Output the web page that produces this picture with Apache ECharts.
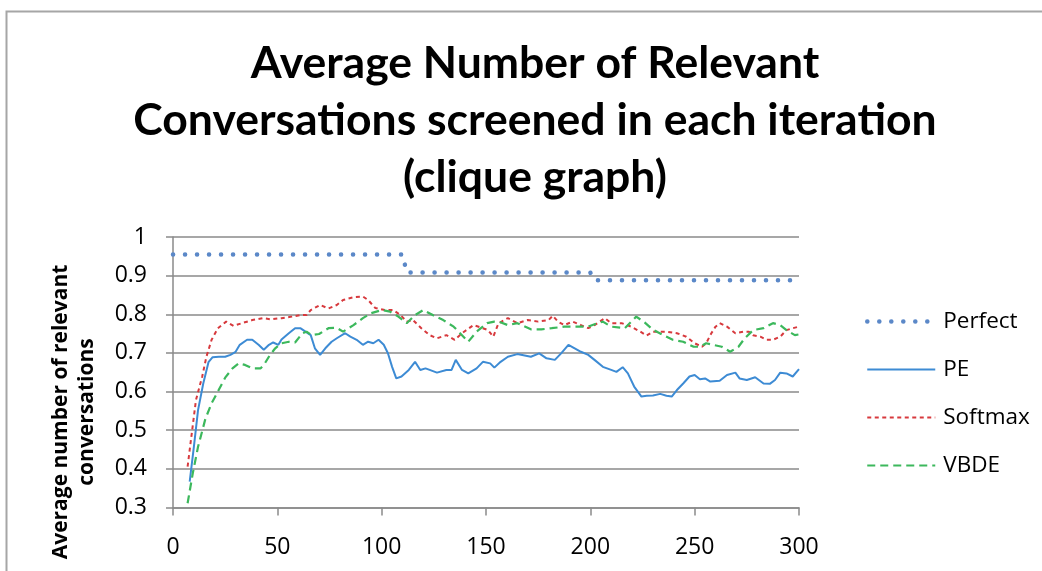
<!DOCTYPE html>
<html>
<head>
<meta charset="utf-8">
<script src="https://cdn.jsdelivr.net/npm/echarts@6/dist/echarts.min.js"></script>
<style>
  html, body { margin: 0; padding: 0; background: #ffffff; }
  #chart { width: 1042px; height: 571px; }
</style>
</head>
<body>
<div id="chart"></div>
<script>
// Average number of relevant conversations screened per iteration, [iteration, value]
const perfect = [[0, 0.955], [110, 0.955], [112, 0.908], [200, 0.908], [202, 0.888], [300, 0.888]];

const pe = [
  [8, 0.367], [10, 0.457], [12, 0.552], [14.5, 0.621], [17, 0.676], [19, 0.689], [22, 0.690],
  [25, 0.690], [27.5, 0.695], [30, 0.703], [32, 0.721], [35.5, 0.734], [38, 0.734], [41, 0.721],
  [43.5, 0.708], [46, 0.721], [48, 0.727], [50.5, 0.721], [52, 0.735], [55.5, 0.751], [58.5, 0.764],
  [61, 0.764], [63.5, 0.755], [66, 0.746], [68, 0.712], [70.5, 0.695], [73, 0.712], [76, 0.729],
  [78.5, 0.738], [82.5, 0.751], [85, 0.742], [88, 0.734], [91, 0.721], [93.5, 0.729], [96, 0.725],
  [98.5, 0.734], [101, 0.721], [103, 0.699], [105, 0.664], [107, 0.634], [109.5, 0.639], [113, 0.656],
  [116, 0.677], [118.5, 0.656], [121, 0.660], [123, 0.656], [126.5, 0.649], [131, 0.656], [133.5, 0.656],
  [135.5, 0.682], [138.5, 0.656], [141.5, 0.647], [145.5, 0.660], [148.5, 0.677], [152, 0.673],
  [154, 0.662], [157, 0.677], [160.5, 0.690], [165, 0.697], [171.5, 0.690], [175.5, 0.699], [179, 0.686],
  [183, 0.682], [186, 0.699], [189.5, 0.721], [192.5, 0.712], [195.5, 0.703], [199, 0.695], [202, 0.682],
  [206, 0.664], [210, 0.656], [212.5, 0.651], [215.5, 0.663], [218, 0.647], [221, 0.613], [224.5, 0.587],
  [227, 0.589], [230, 0.590], [233.5, 0.594], [236.5, 0.589], [239, 0.587], [241.5, 0.604], [244.5, 0.621],
  [247.5, 0.639], [250, 0.643], [252.5, 0.632], [255, 0.634], [257.5, 0.626], [262, 0.628], [265.5, 0.643],
  [269.5, 0.649], [271.5, 0.634], [275, 0.630], [279, 0.637], [283, 0.621], [286, 0.620], [288.5, 0.630],
  [291, 0.649], [294, 0.647], [297, 0.639], [300, 0.658]
];

const softmax = [
  [7, 0.406], [9, 0.492], [11, 0.578], [14, 0.639], [16, 0.690], [18.5, 0.734], [21.5, 0.764],
  [25.5, 0.781], [29, 0.770], [33, 0.777], [38, 0.785], [43, 0.790], [47, 0.787], [52, 0.790],
  [57, 0.794], [61, 0.798], [64, 0.798], [66, 0.811], [70.5, 0.824], [74.5, 0.815], [78.5, 0.824],
  [81.5, 0.837], [86.5, 0.844], [91, 0.846], [93.5, 0.837], [97, 0.816], [101.5, 0.811], [105.5, 0.811],
  [109, 0.798], [112, 0.781], [115, 0.785], [119, 0.764], [123, 0.746], [126.5, 0.738], [131, 0.746],
  [135, 0.734], [138.5, 0.751], [144, 0.772], [148.5, 0.764], [151, 0.759], [153.5, 0.742], [156, 0.777],
  [160.5, 0.790], [165, 0.777], [170, 0.785], [175, 0.781], [180, 0.785], [182, 0.796], [184.5, 0.781],
  [187.5, 0.772], [191.5, 0.781], [195.5, 0.772], [199, 0.764], [202, 0.772], [207, 0.790], [210, 0.777],
  [215, 0.777], [219.5, 0.768], [224, 0.755], [227, 0.745], [230, 0.755], [236.5, 0.755], [241.5, 0.751],
  [246, 0.742], [250, 0.725], [253.5, 0.716], [255.5, 0.725], [258, 0.751], [260, 0.768], [262, 0.777],
  [265.5, 0.768], [269.5, 0.751], [273.5, 0.755], [276, 0.755], [278, 0.746], [281.5, 0.742],
  [284.5, 0.734], [287.5, 0.734], [291, 0.742], [294, 0.759], [297, 0.764], [300, 0.768]
];

const vbde = [
  [7, 0.311], [9.5, 0.389], [12, 0.457], [15.5, 0.529], [18.5, 0.570], [21, 0.595], [25, 0.636],
  [28.5, 0.660], [31.5, 0.673], [34.5, 0.669], [38, 0.660], [42, 0.660], [44, 0.673], [46.5, 0.695],
  [49, 0.712], [52, 0.725], [55.5, 0.729], [58.5, 0.727], [62, 0.751], [64, 0.755], [66.5, 0.746],
  [70, 0.749], [74.5, 0.764], [78.5, 0.765], [81.5, 0.755], [86.5, 0.772], [91, 0.790], [95, 0.803],
  [100, 0.811], [104, 0.807], [108, 0.794], [112, 0.777], [116, 0.798], [120, 0.811], [124.5, 0.798],
  [129.5, 0.785], [134.5, 0.768], [138.5, 0.746], [141.5, 0.729], [145.5, 0.755], [150.5, 0.777],
  [154, 0.781], [156, 0.781], [160.5, 0.772], [165, 0.777], [171.5, 0.761], [176.5, 0.761], [181.5, 0.764],
  [187.5, 0.768], [192.5, 0.768], [199, 0.768], [203.5, 0.777], [206, 0.781], [210, 0.768], [216.5, 0.764],
  [222, 0.794], [226, 0.779], [230, 0.760], [235, 0.746], [239.5, 0.734], [244.5, 0.729], [249.5, 0.716],
  [252.5, 0.716], [255.5, 0.725], [263, 0.716], [267, 0.703], [271, 0.716], [274, 0.738], [278, 0.759],
  [283, 0.764], [287.5, 0.777], [291, 0.772], [294, 0.759], [298, 0.746], [300, 0.748]
];

const seriesNames = ['Perfect', 'PE', 'Softmax', 'VBDE'];
const titleText = 'Average Number of Relevant\nConversations screened in each iteration\n(clique graph)';
const yAxisTitle = 'Average number of relevant\nconversations';

const TITLE_FONT = 'Lato, "Open Sans", sans-serif';
const FONT = '"Open Sans", "Noto Sans", sans-serif';
const GRID_COLOR = '#8a8a8a';

const chart = echarts.init(document.getElementById('chart'), null, { renderer: 'canvas' });

chart.setOption({
  backgroundColor: '#ffffff',
  animation: false,
  textStyle: { fontFamily: FONT },
  title: {
    text: titleText,
    left: 530,
    top: 30,
    textAlign: 'center',
    textStyle: { fontFamily: TITLE_FONT, fontWeight: 'bold', fontSize: 44.5, lineHeight: 57, color: '#000000' }
  },
  graphic: [
    {
      // outer chart frame
      type: 'rect',
      left: 4, top: 9,
      shape: { width: 1100, height: 700 },
      style: { fill: 'none', stroke: '#a6a6a6', lineWidth: 2 },
      silent: true
    },
    {
      // vertical axis title
      type: 'text',
      x: 74, y: 412,
      rotation: Math.PI / 2,
      style: {
        text: yAxisTitle,
        fontFamily: FONT, fontWeight: 'bold', fontSize: 21, lineHeight: 26,
        fill: '#000000', align: 'center', verticalAlign: 'middle'
      },
      silent: true
    }
  ],
  legend: {
    orient: 'vertical',
    left: 860,
    top: 305,
    itemWidth: 68,
    itemHeight: 14,
    itemGap: 25,
    itemStyle: { opacity: 0 },
    textStyle: { fontFamily: FONT, fontSize: 22.5, color: '#000000', padding: [0, 0, 0, 3] },
    data: [
      { name: seriesNames[0], lineStyle: { width: 4.5 } },
      seriesNames[1],
      seriesNames[2],
      seriesNames[3]
    ]
  },
  grid: { left: 173, right: 243, top: 237, bottom: 63.5, containLabel: false },
  xAxis: {
    type: 'value',
    min: 0, max: 300, interval: 50,
    axisLine: { show: true, lineStyle: { color: GRID_COLOR, width: 1.5 } },
    axisTick: { show: true, inside: false, length: 8, lineStyle: { color: GRID_COLOR, width: 1.5 } },
    axisLabel: { fontFamily: FONT, fontSize: 23, color: '#000000', margin: 28 },
    splitLine: { show: false }
  },
  yAxis: {
    type: 'value',
    min: 0.3, max: 1, interval: 0.1,
    axisLine: { show: true, lineStyle: { color: GRID_COLOR, width: 1.5 } },
    axisTick: { show: true, inside: false, length: 7, lineStyle: { color: GRID_COLOR, width: 1.5 } },
    axisLabel: {
      fontFamily: FONT, fontSize: 23, color: '#000000', margin: 26,
      formatter: v => String(+v.toFixed(1))
    },
    splitLine: { show: true, lineStyle: { color: GRID_COLOR, width: 1.5 } }
  },
  series: [
    {
      name: 'Perfect', type: 'line', data: perfect, showSymbol: false, symbol: 'none',
      lineStyle: { color: '#5b88c8', width: 4.5, type: [0.1, 11.9], cap: 'round' },
      itemStyle: { color: '#5b88c8' }, z: 3
    },
    {
      name: 'PE', type: 'line', data: pe, showSymbol: false, symbol: 'none',
      lineStyle: { color: '#3d8bd4', width: 2 },
      itemStyle: { color: '#3d8bd4' }, z: 4
    },
    {
      name: 'Softmax', type: 'line', data: softmax, showSymbol: false, symbol: 'none',
      lineStyle: { color: '#d7393d', width: 2, type: [4, 3.5] },
      itemStyle: { color: '#d7393d' }, z: 5
    },
    {
      name: 'VBDE', type: 'line', data: vbde, showSymbol: false, symbol: 'none',
      lineStyle: { color: '#3cb85c', width: 2.2, type: [8, 5] },
      itemStyle: { color: '#3cb85c' }, z: 5
    }
  ]
});
</script>
</body>
</html>
